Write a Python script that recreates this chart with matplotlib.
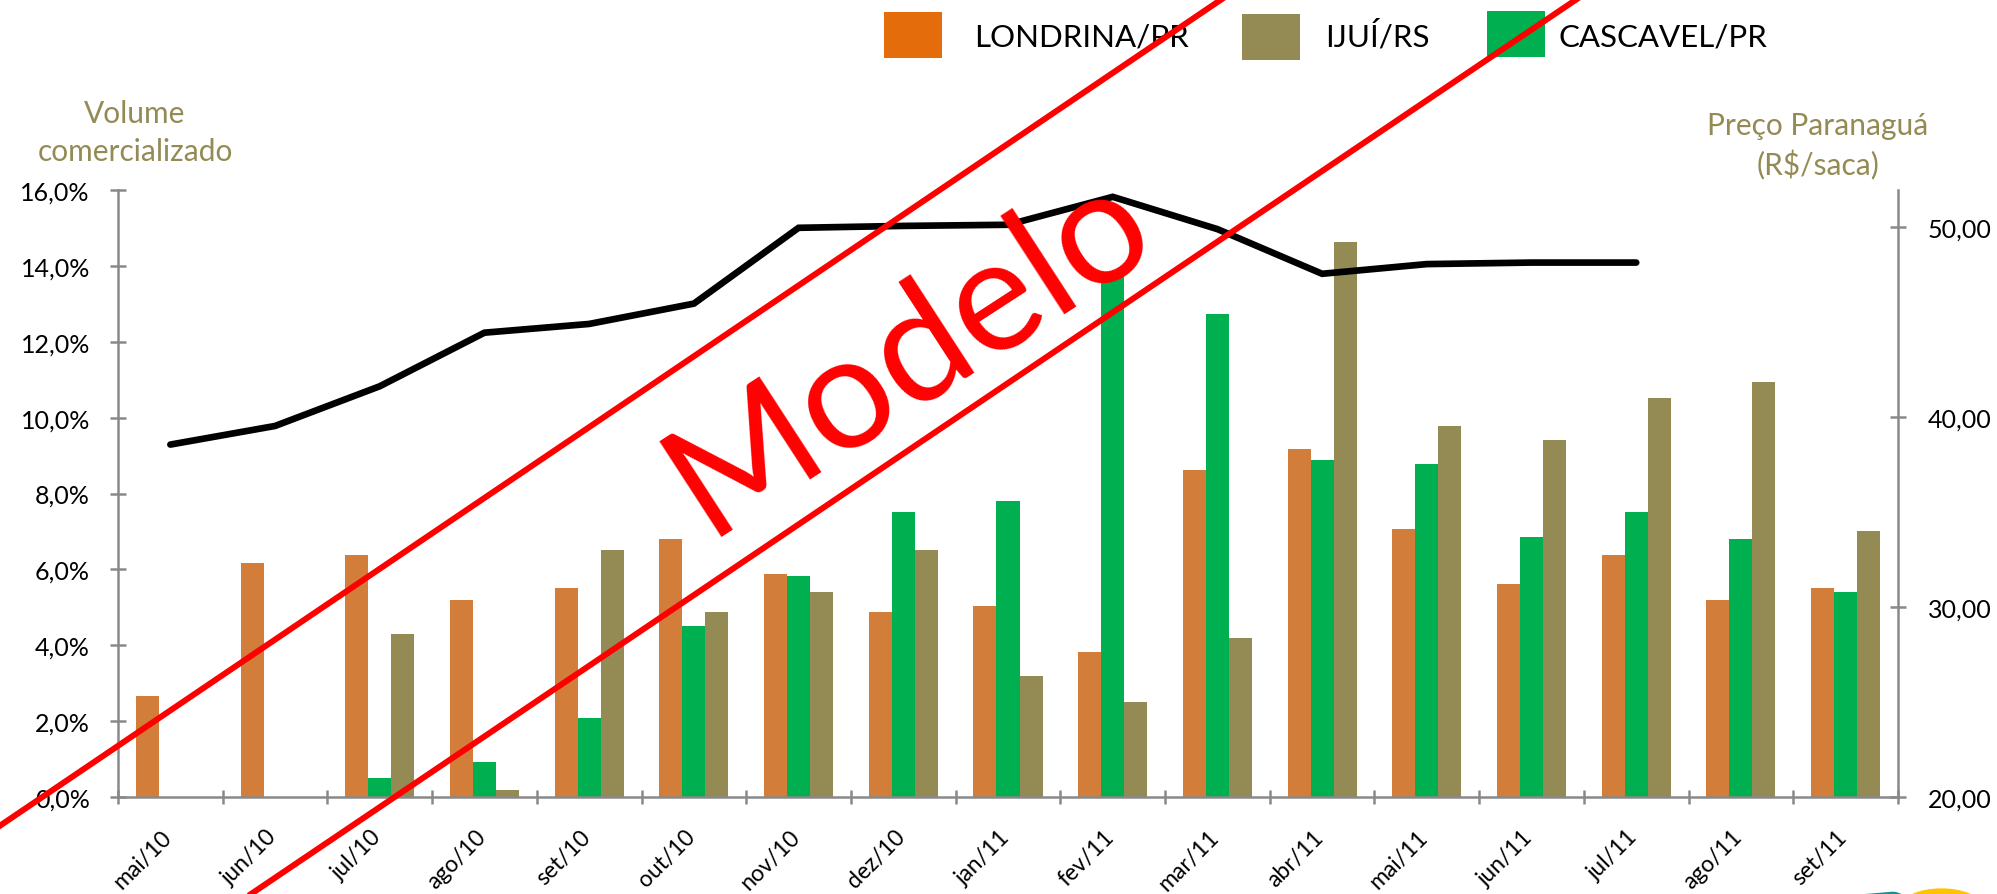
import numpy as np
import matplotlib
matplotlib.use('Agg')
import matplotlib.pyplot as plt
from matplotlib.lines import Line2D
from matplotlib.patches import Rectangle, Circle
import matplotlib.transforms as mtransforms

# ---------------- data ----------------
months = ['mai/10', 'jun/10', 'jul/10', 'ago/10', 'set/10', 'out/10', 'nov/10',
          'dez/10', 'jan/11', 'fev/11', 'mar/11', 'abr/11', 'mai/11', 'jun/11',
          'jul/11', 'ago/11', 'set/11']
londrina = [2.66, 6.18, 6.39, 5.20, 5.52, 6.81, 5.88, 4.88, 5.04, 3.82, 8.62,
            9.18, 7.07, 5.62, 6.39, 5.20, 5.52]
cascavel = [np.nan, np.nan, 0.50, 0.92, 2.08, 4.51, 5.83, 7.50, 7.81, 13.84,
            12.73, 8.88, 8.77, 6.86, 7.50, 6.81, 5.41]
ijui = [np.nan, np.nan, 4.30, 0.18, 6.50, 4.88, 5.41, 6.50, 3.20, 2.51, 4.19,
        14.63, 9.77, 9.40, 10.51, 10.94, 7.02]
preco = [38.55, 39.53, 41.62, 44.44, 44.90, 45.97, 49.96, 50.06, 50.12, 51.59,
         49.89, 47.54, 48.05, 48.13, 48.13, np.nan, np.nan]

left_ticks = [0, 2, 4, 6, 8, 10, 12, 14, 16]
left_labels = ['0,0%', '2,0%', '4,0%', '6,0%', '8,0%', '10,0%', '12,0%', '14,0%', '16,0%']
right_ticks = [20, 30, 40, 50]
right_labels = ['20,00', '30,00', '40,00', '50,00']

series_names = ['LONDRINA/PR', 'IJUÍ/RS', 'CASCAVEL/PR']

# ---------------- style ----------------
C_LON = '#D27E3A'
C_LON_LEG = '#E46C0A'
C_CAS = '#00B050'
C_IJU = '#948A54'
OLIVE_TXT = '#948A54'
GRAY = '#898989'

plt.rcParams['font.family'] = ['Lato', 'DejaVu Sans']

W, H = 1997, 895
fig = plt.figure(figsize=(W / 100, H / 100), dpi=100)


def fx(x):
    return x / W


def fy(y):
    return 1 - y / H


ax = fig.add_axes([fx(118), fy(798), (1898 - 118) / W, (798 - 191) / H])
x = np.arange(len(months))
bw = 0.22
ax.bar(x - bw, londrina, bw, color=C_LON, zorder=2)
ax.bar(x, cascavel, bw, color=C_CAS, zorder=2)
ax.bar(x + bw, ijui, bw, color=C_IJU, zorder=2)
ax.set_xlim(-0.5, len(months) - 0.5)
ax.set_ylim(0, 16)

for s in ['top', 'right']:
    ax.spines[s].set_visible(False)
for s in ['left', 'bottom']:
    ax.spines[s].set_color(GRAY)
    ax.spines[s].set_linewidth(1.8)

ax.set_yticks(left_ticks, labels=left_labels)
ax.tick_params(axis='y', direction='inout', length=12, width=1.8, color=GRAY,
               pad=14.2, labelsize=18, labelcolor='black')

bounds = np.arange(-0.5, len(months), 1.0)
ax.set_xticks(bounds, labels=[''] * len(bounds))
ax.set_xticks(x, labels=months, minor=True)
ax.tick_params(axis='x', which='major', direction='inout', length=10, width=1.8,
               color=GRAY)
ax.tick_params(axis='x', which='minor', length=0, pad=26, labelsize=16.5)
offset = mtransforms.ScaledTranslation(-2 / 100, 0, fig.dpi_scale_trans)
for lab in ax.get_xticklabels(minor=True):
    lab.set_rotation(45)
    lab.set_ha('right')
    lab.set_va('center')
    lab.set_rotation_mode('anchor')
    lab.set_transform(lab.get_transform() + offset)

ax2 = ax.twinx()
ax2.plot(x, preco, color='black', lw=4.8, solid_capstyle='round',
         solid_joinstyle='miter', zorder=3)
ax2.set_ylim(20, 51.95)
for s in ['top', 'left', 'bottom']:
    ax2.spines[s].set_visible(False)
ax2.spines['right'].set_color(GRAY)
ax2.spines['right'].set_linewidth(1.8)
ax2.set_yticks(right_ticks, labels=right_labels)
ax2.tick_params(axis='y', direction='inout', length=12, width=1.8, color=GRAY,
                pad=15.6, labelsize=18, labelcolor='black')

# ---------------- axis titles ----------------
TS = 21.5
fig.text(fx(135), fy(123), 'Volume', ha='center', va='baseline', color=OLIVE_TXT, fontsize=TS)
fig.text(fx(135), fy(161), 'comercializado', ha='center', va='baseline', color=OLIVE_TXT, fontsize=TS)
fig.text(fx(1818), fy(135), 'Preço Paranaguá', ha='center', va='baseline', color=OLIVE_TXT, fontsize=TS)
fig.text(fx(1818), fy(175), '(R$/saca)', ha='center', va='baseline', color=OLIVE_TXT, fontsize=TS)

# ---------------- legend ----------------
leg_items = [
    (series_names[0], C_LON_LEG, (884, 942, 13, 59), 974),
    (series_names[1], C_IJU, (1242, 1300, 15, 61), 1325),
    (series_names[2], C_CAS, (1487, 1545, 12, 58), 1559),
]
for name, col, (x0, x1, y0, y1), tx in leg_items:
    fig.add_artist(Rectangle((fx(x0), fy(y1)), (x1 - x0) / W, (y1 - y0) / H,
                             transform=fig.transFigure, color=col, lw=0))
    fig.text(fx(tx), fy(46.7), name, ha='left', va='baseline', fontsize=22.5, color='black')

# ---------------- logo (bottom right) ----------------
teal = Circle((fx(1880.5), fy(904)), 29 / W, transform=fig.transFigure,
              color='#13908A', lw=0)
fig.add_artist(teal)
for yy in [884, 892]:
    fig.add_artist(Line2D([fx(1845), fx(1915)], [fy(yy + 3), fy(yy - 3)],
                          transform=fig.transFigure, color='white', lw=2.5))
sun = Circle((fx(1941.5), fy(907.5)), 40.5 / W, transform=fig.transFigure,
             color='#FFC400', lw=0)
fig.add_artist(sun)

# ---------------- watermark ----------------
fig.add_artist(Line2D([fx(-101), fx(1222)], [fy(895), fy(0)], transform=fig.transFigure,
                      color='#FF0000', lw=4.3, zorder=10))
fig.add_artist(Line2D([fx(251), fx(1577)], [fy(895), fy(0)], transform=fig.transFigure,
                      color='#FF0000', lw=4.3, zorder=10))
fig.text(fx(934), fy(390), 'Modelo', rotation=33, rotation_mode='anchor',
         ha='center', va='baseline', fontsize=115, color='#FF0000', zorder=11)

fig.savefig('out.png', dpi=100)
